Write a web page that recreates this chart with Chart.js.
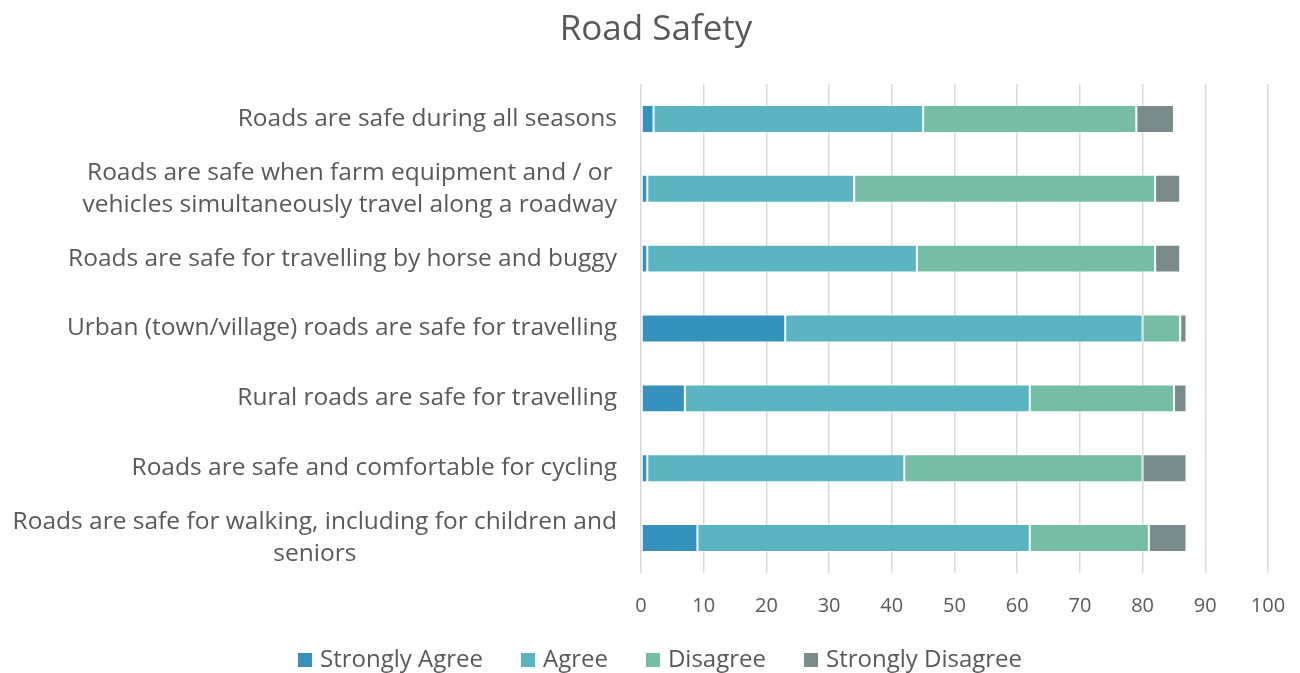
<!DOCTYPE html>
<html><head><meta charset="utf-8">
<script src="https://cdn.jsdelivr.net/npm/chart.js@4"></script>
<style>html,body{margin:0;padding:0;background:#fff;}#wrap{width:1300px;height:673px;}</style>
</head><body><div id="wrap"><canvas id="c" width="1300" height="673"></canvas></div>
<script>
const categories = [
  ["Roads are safe during all seasons"],
  ["Roads are safe when farm equipment and / or", "vehicles simultaneously travel along a roadway"],
  ["Roads are safe for travelling by horse and buggy"],
  ["Urban (town/village) roads are safe for travelling"],
  ["Rural roads are safe for travelling"],
  ["Roads are safe and comfortable for cycling"],
  ["Roads are safe for walking, including for children and", "seniors"]
];
const seriesNames = ["Strongly Agree", "Agree", "Disagree", "Strongly Disagree"];
const stronglyAgree = [2, 1, 1, 23, 7, 1, 9];
const agree = [43, 33, 43, 57, 55, 41, 53];
const disagree = [34, 48, 38, 6, 23, 38, 19];
const stronglyDisagree = [6, 4, 4, 1, 2, 7, 6];
const xTicks = [0,10,20,30,40,50,60,70,80,90,100];
const colors = ["#3593BB", "#5AB5C0", "#76BDA6", "#7A8B8C"];

const FONT = "'Open Sans', sans-serif";
const TXT = "#595959";
const labelPlugin = {
  id: 'catLabels',
  afterDraw(chart) {
    const ys = chart.scales.y;
    const ctx = chart.ctx;
    ctx.save();
    ctx.font = "24.5px " + FONT;
    ctx.fillStyle = TXT;
    ctx.textAlign = 'center';
    ctx.textBaseline = 'middle';
    const right = ys.right - 24;
    const lh = 32;
    categories.forEach((lines, i) => {
      const y = ys.getPixelForValue(i);
      const w = Math.max(...lines.map(l => ctx.measureText(l).width));
      const cx = right - w / 2;
      const y0 = y - (lines.length - 1) * lh / 2;
      lines.forEach((l, k) => ctx.fillText(l, cx, y0 + k * lh));
    });
    // legend
    ctx.font = "24px " + FONT;
    ctx.textAlign = 'left';
    const box = 14, boxGap = 8, itemGap = 38;
    const widths = chart.data.datasets.map(d => ctx.measureText(d.label).width);
    const total = widths.reduce((a, w) => a + box + boxGap + w, 0) + itemGap * (widths.length - 1);
    let x = 660 - total / 2;
    const ly = 660;
    chart.data.datasets.forEach((d, i) => {
      ctx.fillStyle = d.backgroundColor;
      ctx.fillRect(x, ly - box / 2, box, box);
      ctx.fillStyle = TXT;
      ctx.fillText(d.label, x + box + boxGap, ly);
      x += box + boxGap + widths[i] + itemGap;
    });
    ctx.restore();
  }
};

new Chart(document.getElementById('c'), {
  type: 'bar',
  data: {
    labels: categories,
    datasets: [stronglyAgree, agree, disagree, stronglyDisagree].map((d, i) => ({
      label: seriesNames[i], data: d, backgroundColor: colors[i],
      borderColor: 'rgba(255,255,255,0.45)', borderWidth: 1, borderSkipped: false,
      categoryPercentage: 1, barPercentage: 0.4
    }))
  },
  options: {
    indexAxis: 'y', responsive: false, animation: false,
    layout: { padding: { left: 44, right: 32, top: 4, bottom: 34 } },
    plugins: {
      title: { display: true, text: 'Road Safety', color: TXT, font: { family: FONT, size: 35, weight: 'normal' }, padding: { top: 5, bottom: 33 } },
      legend: { display: false },
      tooltip: { enabled: false }
    },
    scales: {
      x: {
        stacked: true, min: 0, max: 100,
        afterBuildTicks(s) { s.ticks = xTicks.map(v => ({ value: v })); },
        afterFit(s) { s.paddingLeft = 0; s.paddingRight = 0; },
        grid: { color: '#D9D9D9', lineWidth: 1.5, drawTicks: false },
        border: { display: false },
        ticks: { color: TXT, font: { family: FONT, size: 20 }, padding: 21 }
      },
      y: {
        stacked: true,
        grid: { display: false }, border: { display: false },
        ticks: { display: false },
        afterFit(s) { s.width = 597; }
      }
    }
  },
  plugins: [labelPlugin]
});
</script></body></html>
